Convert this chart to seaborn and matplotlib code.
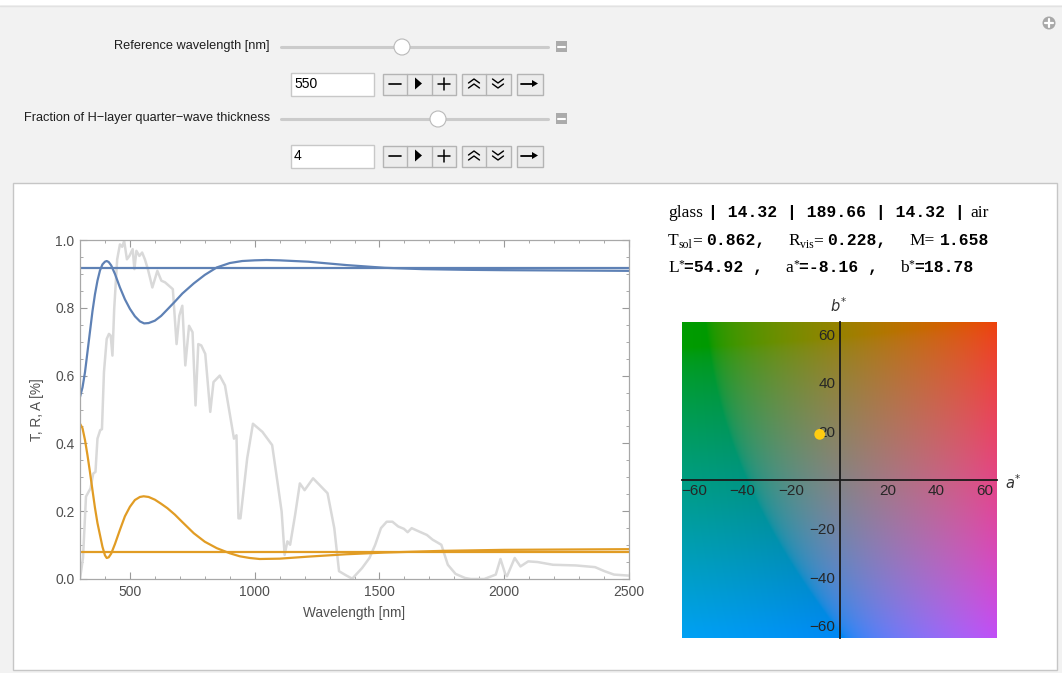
import numpy as np
import matplotlib
matplotlib.use("Agg")
import matplotlib.pyplot as plt
import seaborn as sns
from matplotlib.patches import Rectangle, Circle, Polygon
from matplotlib.lines import Line2D
from matplotlib.ticker import MultipleLocator, FormatStrFormatter

# ---------------- data ----------------
wl_T = [300, 310, 320, 330, 340, 350, 360, 370, 380, 390, 400, 407, 415, 425, 440, 460, 480, 500,
        520, 540, 557, 575, 600, 625, 650, 680, 710, 756, 800, 848, 900, 950, 1000, 1047, 1100,
        1215, 1368, 1521, 1674, 1850, 2000, 2250, 2500]
T_vals = [0.537, 0.565, 0.61, 0.67, 0.73, 0.79, 0.84, 0.88, 0.91, 0.928, 0.936, 0.938, 0.935, 0.925,
          0.90, 0.86, 0.825, 0.797, 0.775, 0.760, 0.754, 0.755, 0.762, 0.776, 0.795, 0.818, 0.842,
          0.872, 0.897, 0.919, 0.932, 0.938, 0.940, 0.941, 0.940, 0.936, 0.926, 0.918, 0.914, 0.912,
          0.911, 0.910, 0.909]
wl_R = [300, 310, 320, 330, 340, 350, 360, 370, 380, 390, 400, 407, 415, 425, 440, 460, 480, 500,
        520, 540, 555, 575, 600, 625, 650, 680, 710, 756, 800, 848, 900, 940, 980, 1020, 1100,
        1215, 1368, 1521, 1751, 2000, 2250, 2500]
R_vals = [0.458, 0.445, 0.41, 0.365, 0.315, 0.262, 0.21, 0.165, 0.13, 0.095, 0.07, 0.062, 0.064,
          0.075, 0.103, 0.145, 0.185, 0.213, 0.233, 0.242, 0.244, 0.242, 0.234, 0.222, 0.209, 0.19,
          0.168, 0.135, 0.11, 0.091, 0.076, 0.067, 0.062, 0.059, 0.060, 0.066, 0.073, 0.078, 0.083,
          0.086, 0.087, 0.088]
wl_sun = [300, 312, 324, 335, 342, 353, 362, 370, 381, 388, 396, 407, 416, 423, 430, 437, 449, 460,
          469, 477, 488, 498, 511, 518, 526, 538, 549, 560, 572, 590, 610, 626, 641, 672, 687, 698,
          710, 722, 737, 751, 763, 774, 786, 802, 822, 835, 860, 881, 917, 927, 935, 943, 970, 993,
          1031, 1070, 1093, 1108, 1120, 1131, 1142, 1162, 1181, 1200, 1234, 1292, 1319, 1338, 1368,
          1391, 1430, 1460, 1483, 1506, 1529, 1552, 1575, 1598, 1613, 1629, 1659, 1690, 1713, 1748,
          1774, 1805, 1843, 1866, 1920, 1966, 1985, 2004, 2011, 2042, 2065, 2096, 2134, 2195, 2287,
          2364, 2402, 2440, 2500]
sun_vals = [0.0, 0.062, 0.243, 0.258, 0.267, 0.311, 0.316, 0.414, 0.439, 0.442, 0.610, 0.708, 0.723,
            0.718, 0.659, 0.796, 0.943, 0.987, 0.980, 0.997, 0.943, 0.953, 0.973, 0.914, 0.968, 0.953,
            0.963, 0.943, 0.914, 0.860, 0.909, 0.880, 0.875, 0.855, 0.693, 0.777, 0.806, 0.630, 0.747,
            0.728, 0.512, 0.693, 0.689, 0.664, 0.493, 0.581, 0.600, 0.571, 0.414, 0.424, 0.179, 0.179,
            0.356, 0.458, 0.434, 0.395, 0.277, 0.199, 0.071, 0.111, 0.101, 0.189, 0.282, 0.262, 0.297,
            0.253, 0.150, 0.023, 0.010, 0.001, 0.032, 0.062, 0.101, 0.150, 0.169, 0.169, 0.155, 0.148,
            0.138, 0.150, 0.140, 0.130, 0.116, 0.101, 0.042, 0.015, 0.003, 0.0, 0.0, 0.013, 0.059,
            0.015, 0.008, 0.062, 0.037, 0.052, 0.050, 0.042, 0.040, 0.035, 0.023, 0.013, 0.010]
T_glass = 0.917
R_glass = 0.079

x_ticks = [500, 1000, 1500, 2000, 2500]
y_ticks = [0.0, 0.2, 0.4, 0.6, 0.8, 1.0]
lab_ticks = [-60, -40, -20, 20, 40, 60]

L_star, a_star, b_star = 54.92, -8.16, 18.78
layers = ["glass", "14.32", "189.66", "14.32", "air"]
T_sol, R_vis, M_val = 0.862, 0.228, 1.658
ref_wavelength = "550"
fraction = "4"

# ---------------- figure ----------------
sns.set_theme(style="white")
plt.rcParams["font.family"] = ["Liberation Sans", "DejaVu Sans"]

W, H = 1062, 673
fig = plt.figure(figsize=(W / 100, H / 100), dpi=100, facecolor="#f2f2f2")
bg = fig.add_axes([0, 0, 1, 1], zorder=0)
bg.set_xlim(0, W)
bg.set_ylim(H, 0)
bg.axis("off")
bg.set_facecolor("none")

# top strip and panel
bg.add_patch(Rectangle((0, 0), W, 5, facecolor="white", edgecolor="none"))
bg.add_line(Line2D([0, W], [5.5, 5.5], color="#e2e2e2", lw=1))
bg.add_patch(Rectangle((12.5, 182.5), 1044, 487, facecolor="white", edgecolor="#c6c6c6", lw=1))

# plus icon
bg.add_patch(Circle((1049, 23), 6.5, facecolor="#a8a8a8", edgecolor="none"))
bg.add_line(Line2D([1045, 1053], [23, 23], color="white", lw=1.6))
bg.add_line(Line2D([1049, 1049], [19, 27], color="white", lw=1.6))


def slider(y, xthumb, label):
    bg.text(270, y, label, ha="right", va="center", fontsize=9.2, color="#1e1e1e")
    bg.add_line(Line2D([281, 548], [y + 1, y + 1], color="#cbcbcb", lw=2.2, solid_capstyle="round"))
    bg.add_patch(Circle((xthumb, y + 1), 8, facecolor="white", edgecolor="#b9b9b9", lw=0.8, zorder=3))
    bg.add_patch(Rectangle((555.5, y - 5), 11, 11, facecolor="#ababab", edgecolor="none"))
    bg.add_line(Line2D([557.5, 564.5], [y + 0.5, y + 0.5], color="white", lw=1.5))


def controls(y0, value):
    # y0 = top of input box
    bg.add_patch(Rectangle((290.5, y0 + 0.5), 83, 23, facecolor="white", edgecolor="#c8c8c8", lw=1))
    bg.text(294, y0 + 16, value, ha="left", va="baseline", fontsize=10, color="black")
    top, h = y0 + 1, 21
    cy = top + h / 2
    # group 1
    bg.add_patch(Rectangle((382.5, top + 0.5), 73, h, facecolor="#ececec", edgecolor="#b4b4b4", lw=1))
    for xs in (406.5, 431.5):
        bg.add_line(Line2D([xs, xs], [top + 0.5, top + h + 0.5], color="#b4b4b4", lw=1))
    bg.add_line(Line2D([389, 401], [cy, cy], color="black", lw=1.2))
    bg.add_patch(Polygon([[415, cy - 6], [415, cy + 6], [422, cy]], closed=True,
                         facecolor="black", edgecolor="none"))
    bg.add_line(Line2D([437.5, 449.5], [cy, cy], color="black", lw=1.1))
    bg.add_line(Line2D([443.5, 443.5], [cy - 6, cy + 6], color="black", lw=1.1))
    # group 2
    bg.add_patch(Rectangle((461.5, top + 0.5), 49, h, facecolor="#ececec", edgecolor="#b4b4b4", lw=1))
    bg.add_line(Line2D([486, 486], [top + 0.5, top + h + 0.5], color="#b4b4b4", lw=1))
    for dy in (-2.5, 2.5):
        bg.add_line(Line2D([468.5, 474, 479.5], [cy + dy + 2, cy + dy - 2, cy + dy + 2], color="black", lw=1.0))
        bg.add_line(Line2D([492.5, 498, 503.5], [cy + dy - 2, cy + dy + 2, cy + dy - 2], color="black", lw=1.0))
    # group 3
    bg.add_patch(Rectangle((516.5, top + 0.5), 26, h, facecolor="#ececec", edgecolor="#b4b4b4", lw=1))
    bg.add_line(Line2D([521, 534], [cy, cy], color="black", lw=1.3))
    bg.add_patch(Polygon([[532, cy - 3.5], [532, cy + 3.5], [538, cy]], closed=True,
                         facecolor="black", edgecolor="none"))


slider(46, 402, "Reference wavelength [nm]")
controls(72, ref_wavelength)
slider(118, 438, "Fraction of H\u2212layer quarter\u2212wave thickness")
controls(144, fraction)

# ---------------- spectral plot ----------------
ax = fig.add_axes([80 / W, 1 - 579 / H, (629 - 80) / W, (579 - 240) / H], zorder=2)
ax.set_facecolor("white")
sns.lineplot(x=wl_sun, y=sun_vals, ax=ax, color="#d9d9d9", lw=1.8, sort=False, estimator=None)
ax.axhline(T_glass, color="#5e81b5", lw=1.6)
ax.axhline(R_glass, color="#e19c24", lw=1.6)
sns.lineplot(x=wl_T, y=T_vals, ax=ax, color="#5e81b5", lw=1.6, sort=False, estimator=None)
sns.lineplot(x=wl_R, y=R_vals, ax=ax, color="#e19c24", lw=1.6, sort=False, estimator=None)
ax.set_xlim(300, 2500)
ax.set_ylim(0, 1)
ax.set_xticks(x_ticks)
ax.set_yticks(y_ticks)
ax.yaxis.set_major_formatter(FormatStrFormatter("%.1f"))
ax.xaxis.set_minor_locator(MultipleLocator(100))
ax.yaxis.set_minor_locator(MultipleLocator(0.05))
ax.tick_params(which="both", direction="in", top=True, right=True, bottom=True, left=True,
               color="#9a9a9a", labelcolor="#505050", labelsize=10)
ax.tick_params(which="major", length=5, width=0.8, pad=4)
ax.tick_params(which="minor", length=2.5, width=0.6)
for s in ax.spines.values():
    s.set_color("#a8a8a8")
    s.set_linewidth(0.9)
ax.set_xlabel("Wavelength [nm]", color="#505050", fontsize=9.8, labelpad=5)
ax.set_ylabel("T, R, A [%]", color="#505050", fontsize=9.8, labelpad=8)

# ---------------- CIELAB plane ----------------
def lab_to_srgb(L, a, b):
    fy = (L + 16) / 116
    fx = fy + a / 500
    fz = fy - b / 200
    d = 6 / 29

    def finv(t):
        return np.where(t > d, t ** 3, 3 * d * d * (t - 4 / 29))

    X = 0.96422 * finv(fx)
    Y = finv(fy) * np.ones_like(fx)
    Z = 0.82521 * finv(fz)
    Mx = np.array([[3.1338561, -1.6168667, -0.4906146],
                   [-0.9787684, 1.9161415, 0.0334540],
                   [0.0719453, -0.2289914, 1.4052427]])
    rgb = np.tensordot(np.stack([X, Y, Z], -1), Mx.T, 1)
    rgb = np.clip(rgb, 0, 1)
    rgb = np.where(rgb <= 0.0031308, 12.92 * rgb, 1.055 * rgb ** (1 / 2.4) - 0.055)
    return np.clip(rgb, 0, 1)


lab = fig.add_axes([682 / W, 1 - 638 / H, 315 / W, 316 / H], zorder=2)
grid = np.linspace(-65, 65, 261)
AA, BB = np.meshgrid(grid, grid)
img = lab_to_srgb(L_star, AA, BB)
lab.imshow(img, extent=[-65, 65, -65, 65], origin="lower", interpolation="bilinear", aspect="auto")
sns.scatterplot(x=[a_star], y=[b_star], ax=lab, color="#ffcc11", s=60, edgecolor="none", zorder=5)
lab.set_xlim(-65, 65)
lab.set_ylim(-65, 65)
lab.spines["left"].set_position(("data", 0))
lab.spines["bottom"].set_position(("data", 0))
lab.spines["top"].set_visible(False)
lab.spines["right"].set_visible(False)
for k in ("left", "bottom"):
    lab.spines[k].set_color("#1a1a1a")
    lab.spines[k].set_linewidth(1.3)
lab.set_xticks(lab_ticks)
lab.set_yticks(lab_ticks)
lab.xaxis.set_minor_locator(MultipleLocator(5))
lab.yaxis.set_minor_locator(MultipleLocator(5))
lab.tick_params(which="both", direction="in", color="#1a1a1a", labelcolor="#262626", labelsize=11)
lab.tick_params(which="major", length=5, width=1.0, pad=3)
lab.tick_params(which="minor", length=2.5, width=0.8)
lab.set_xlabel("")
lab.set_ylabel("")
bg.text(1013, 483, r"$a^{*}$", ha="center", va="center", fontsize=10.5, color="#333333")
bg.text(839, 306, r"$b^{*}$", ha="center", va="center", fontsize=10.5, color="#333333")

# ---------------- text block ----------------
serif = dict(family=["Liberation Serif", "DejaVu Serif"], fontsize=12.5, color="black")
small = dict(family=["Liberation Serif", "DejaVu Serif"], fontsize=8.5, color="black")
mono = dict(family=["Liberation Mono", "DejaVu Sans Mono"], fontsize=11.8, weight="bold", color="black")

renderer = fig.canvas.get_renderer()


def chain(x, y, pieces):
    for s, style, dy, gap in pieces:
        t = bg.text(x, y + dy, s, ha="left", va="baseline", **style)
        x += t.get_window_extent(renderer).width + gap


chain(668, 217, [
    (layers[0], serif, 0, 5),
    ("| {} | {} | {} |".format(layers[1], layers[2], layers[3]), mono, 0, 6),
    (layers[4], serif, 0, 0),
])
chain(668, 245, [
    ("T", serif, 0, 0),
    ("sol", small, 3, 0),
    ("=", serif, 0, 4),
    ("{:.3f},".format(T_sol), mono, 0, 23),
    ("R", serif, 0, 0),
    ("vis", small, 3, 0),
    ("=", serif, 0, 4),
    ("{:.3f},".format(R_vis), mono, 0, 23),
    ("M=", serif, 0, 5),
    ("{:.3f}".format(M_val), mono, 0, 0),
])
chain(668, 272, [
    ("L", serif, 0, 0),
    ("*", small, -5, 0),
    ("={:.2f} ,".format(L_star), mono, 0, 22),
    ("a", serif, 0, 0),
    ("*", small, -5, 0),
    ("={:.2f} ,".format(a_star), mono, 0, 22),
    ("b", serif, 0, 0),
    ("*", small, -5, 0),
    ("={:.2f}".format(b_star), mono, 0, 0),
])

fig.savefig("out.png", dpi=100, facecolor=fig.get_facecolor())
